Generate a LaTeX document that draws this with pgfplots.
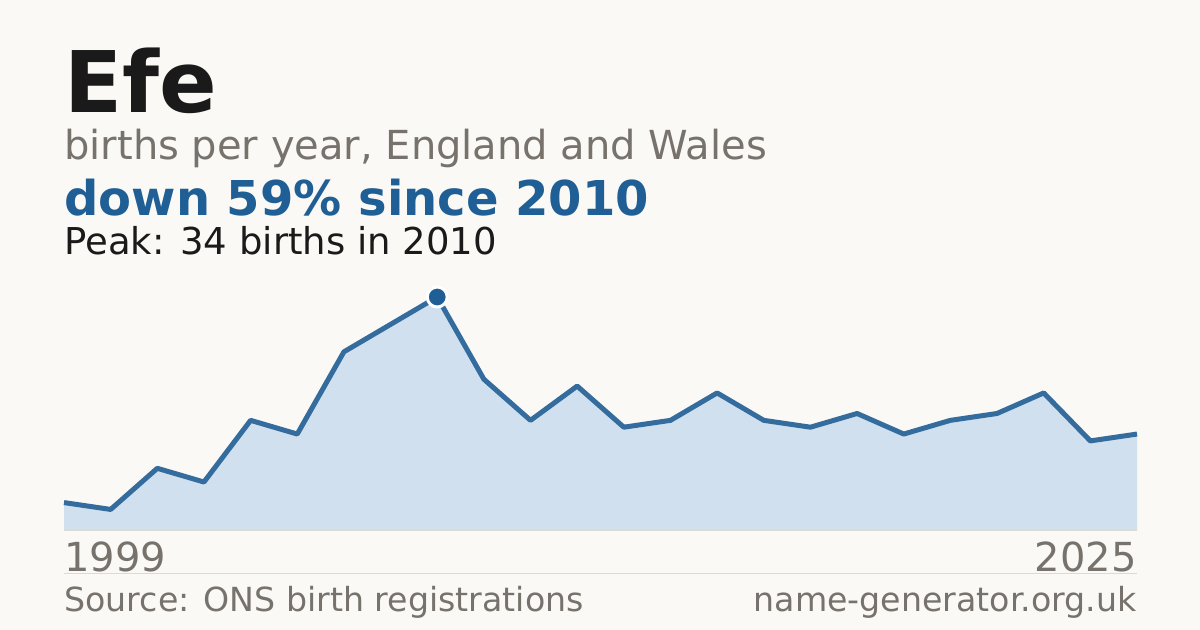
\documentclass[border=0pt]{standalone}
\usepackage{pgfplots}
\pgfplotsset{compat=1.18}
\usepackage{fontspec}
\setmainfont{DejaVu Sans}
\definecolor{bg}{HTML}{FAF9F5}
\definecolor{ink}{HTML}{1A1A1A}
\definecolor{muted}{HTML}{77726C}
\definecolor{accent}{HTML}{1F5F96}
\definecolor{linec}{HTML}{346C9E}
\definecolor{areac}{HTML}{D0E0EF}
\definecolor{rule}{HTML}{DDDAD5}

% births per year, index 0 = 1999, then 2003..2025
\pgfplotstableread{
i  n
0  4
1  3
2  9
3  7
4  16
5  14
6  26
7  30
8  34
9  22
10 16
11 21
12 15
13 16
14 20
15 16
16 15
17 17
18 14
19 16
20 17
21 20
22 13
23 14
}\births

\begin{document}
\begin{tikzpicture}
  \fill[bg] (0,0) rectangle (600pt,315pt);

  \node[anchor=base west, inner sep=0, text=ink, font=\fontsize{42.5}{42.5}\selectfont\bfseries] at (32pt,258.5pt) {Efe};
  \node[anchor=base west, inner sep=0, text=muted, font=\fontsize{20}{20}\selectfont] at (32pt,235pt) {births per year, England and Wales};
  \node[anchor=base west, inner sep=0, text=accent, font=\fontsize{24}{24}\selectfont\bfseries] at (32pt,207pt) {down 59\% since 2010};
  \node[anchor=base west, inner sep=0, text=ink, font=\fontsize{18.5}{18.5}\selectfont] at (32pt,187.5pt) {Peak: 34 births in 2010};

  \begin{axis}[
      at={(32pt,50pt)}, anchor=south west,
      scale only axis, width=536.5pt, height=116.5pt,
      xmin=0, xmax=23, ymin=0, ymax=34,
      hide axis, clip=false,
    ]
    \addplot[fill=areac, draw=none] table[x=i, y=n] {\births} \closedcycle;
    \draw[rule, line width=0.6pt] (axis cs:0,0) -- (axis cs:23,0);
    \addplot[linec, line width=2.5pt, line join=round] table[x=i, y=n] {\births};
    \addplot[only marks, mark=*, mark size=5pt, accent, mark options={draw=white, line width=1.5pt}] coordinates {(8,34)};
  \end{axis}

  \node[anchor=base west, inner sep=0, text=muted, font=\fontsize{20}{20}\selectfont] at (32pt,29pt) {1999};
  \node[anchor=base east, inner sep=0, text=muted, font=\fontsize{20}{20}\selectfont] at (568.5pt,29pt) {2025};
  \draw[rule, line width=0.5pt] (32pt,28pt) -- (568.5pt,28pt);
  \node[anchor=base west, inner sep=0, text=muted, font=\fontsize{16.6}{16.6}\selectfont] at (32pt,9pt) {Source: ONS birth registrations};
  \node[anchor=base east, inner sep=0, text=muted, font=\fontsize{16.6}{16.6}\selectfont] at (568.5pt,9pt) {name-generator.org.uk};
\end{tikzpicture}
\end{document}
